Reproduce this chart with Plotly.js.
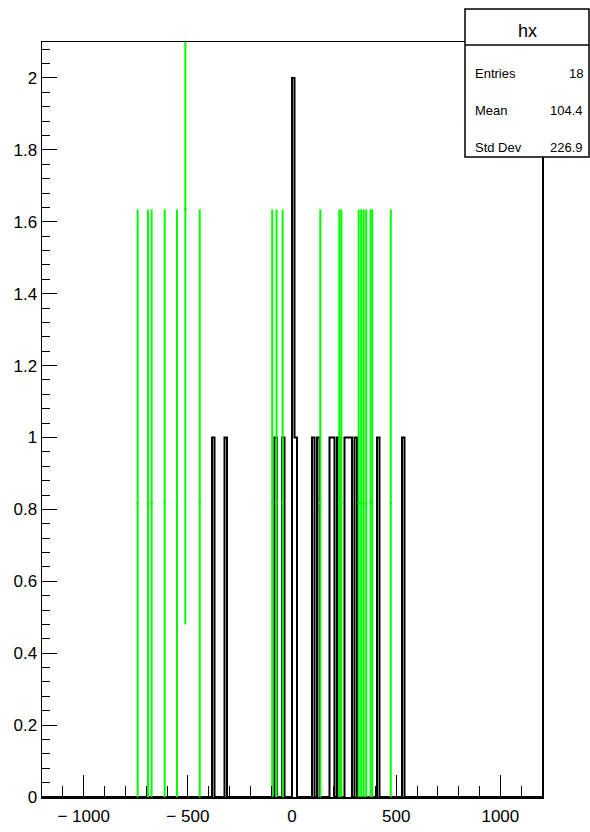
<!DOCTYPE html>
<html><head><meta charset="utf-8">
<script src="https://cdn.plot.ly/plotly-3.0.1.min.js"></script>
<style>html,body{margin:0;padding:0;background:#fff;} #chart{width:590px;height:832px;}</style>
</head><body><div id="chart"></div>
<script>
// ---- data ----
const histName = "hx";
const xMin = -1200, xMax = 1200, nBins = 200;
// black histogram: filled bins (centres) and their contents
const blackBinCenters = [-378, -318, -78, -42, 6, 18, 102, 126, 186, 198, 222, 258, 270, 282, 306, 414, 534];
const blackCounts     = [1, 1, 1, 1, 2, 1, 1, 1, 1, 1, 1, 1, 1, 1, 1, 1, 1];
// green histogram drawn with error bars
const greenX   = [-741, -691, -674, -611, -552, -512, -443, -95, -74, -45, 136, 227, 237, 320, 332, 344, 356, 377, 385, 474];
const greenY   = [0.817, 0.817, 0.817, 0.817, 0.817, 1.635, 0.817, 0.817, 0.817, 0.817, 0.817, 0.817, 0.817, 0.817, 0.817, 0.817, 0.817, 0.817, 0.817, 0.817];
const greenErr = [0.817, 0.817, 0.817, 0.817, 0.817, 1.155, 0.817, 0.817, 0.817, 0.817, 0.817, 0.817, 0.817, 0.817, 0.817, 0.817, 0.817, 0.817, 0.817, 0.817];
// stats box
const statLabels = ["Entries", "Mean", "Std Dev"];
const statValues = ["18", "104.4", "226.9"];
// tick labels
const xTickVals = [-1000, -500, 0, 500, 1000];
const xTickText = ["\u2212\u00a01000", "\u2212\u00a0500", "0", "500", "1000"];

// ---- build step outline of black histogram ----
const bw = (xMax - xMin) / nBins;
const counts = new Array(nBins).fill(0);
blackBinCenters.forEach((c, i) => { const k = Math.floor((c - xMin) / bw); counts[k] += blackCounts[i]; });
const stepX = [], stepY = [];
for (let k = 0; k < nBins; k++) { stepX.push(xMin + k * bw); stepY.push(counts[k]); }
stepX.push(xMax); stepY.push(0);

// ---- layout geometry ----
const W = 590, H = 832, ML = 42, MR = 48, MT = 42, MB = 35;
const pw = W - ML - MR, ph = H - MT - MB;
const px = x => (x - ML) / pw;
const py = y => (H - MB - y) / ph;
const FONT = "Liberation Sans, Arial, Helvetica, sans-serif";

const traces = [
  {
    type: "scatter", mode: "lines", x: stepX, y: stepY,
    line: {color: "#000", width: 2, shape: "hv"}, hoverinfo: "skip", showlegend: false
  },
  {
    type: "scatter", mode: "markers", x: greenX, y: greenY,
    marker: {size: 1, color: "#00ff00", opacity: 0},
    error_y: {type: "data", array: greenErr, symmetric: true, color: "#00ff00", thickness: 2, width: 0},
    error_x: {type: "constant", value: bw / 2, color: "#00ff00", thickness: 2, width: 0},
    hoverinfo: "skip", showlegend: false
  }
];

const annotations = [
  {xref: "paper", yref: "paper", x: px(527), y: py(31), text: histName, showarrow: false,
   xanchor: "center", yanchor: "middle", font: {family: FONT, size: 18, color: "#000"}}
];
const rowY = [74, 110, 147];
statLabels.forEach((l, i) => {
  annotations.push({xref: "paper", yref: "paper", x: px(473), y: py(rowY[i]), text: l, showarrow: false,
    xanchor: "left", yanchor: "middle", font: {family: FONT, size: 13, color: "#000"}});
  annotations.push({xref: "paper", yref: "paper", x: px(585), y: py(rowY[i]), text: statValues[i], showarrow: false,
    xanchor: "right", yanchor: "middle", font: {family: FONT, size: 13, color: "#000"}});
});

const shapes = [
  {type: "rect", xref: "paper", yref: "paper", x0: px(465), x1: px(589), y0: py(157), y1: py(9),
   fillcolor: "#fff", line: {color: "#000", width: 1.5}, layer: "above"},
  {type: "line", xref: "paper", yref: "paper", x0: px(465), x1: px(589), y0: py(45), y1: py(45),
   line: {color: "#000", width: 1.5}, layer: "above"}
];

const layout = {
  width: W, height: H,
  margin: {l: ML, r: MR, t: MT, b: MB, pad: 0},
  paper_bgcolor: "#fff", plot_bgcolor: "#fff",
  showlegend: false,
  font: {family: FONT, size: 17, color: "#000"},
  xaxis: {
    range: [xMin, xMax], showgrid: false, zeroline: false,
    showline: true, mirror: true, linecolor: "#000", linewidth: 1.5,
    ticks: "inside", ticklen: 22, tickwidth: 1, tickcolor: "#000",
    tickmode: "array", tickvals: xTickVals, ticktext: xTickText,
    minor: {dtick: 100, tick0: 0, ticks: "inside", ticklen: 11, tickwidth: 1, tickcolor: "#000", showgrid: false},
    tickfont: {family: FONT, size: 17, color: "#000"}, ticklabelstandoff: 3
  },
  yaxis: {
    range: [0, 2.1], showgrid: false, zeroline: false,
    showline: true, mirror: true, linecolor: "#000", linewidth: 1.5,
    ticks: "inside", ticklen: 15, tickwidth: 1, tickcolor: "#000",
    tick0: 0, dtick: 0.2,
    minor: {dtick: 0.04, tick0: 0, ticks: "inside", ticklen: 8, tickwidth: 1, tickcolor: "#000", showgrid: false},
    tickfont: {family: FONT, size: 17, color: "#000"}, ticklabelstandoff: 0
  },
  annotations: annotations,
  shapes: shapes
};

Plotly.newPlot("chart", traces, layout, {staticPlot: true, displayModeBar: false});
</script>
</body></html>
